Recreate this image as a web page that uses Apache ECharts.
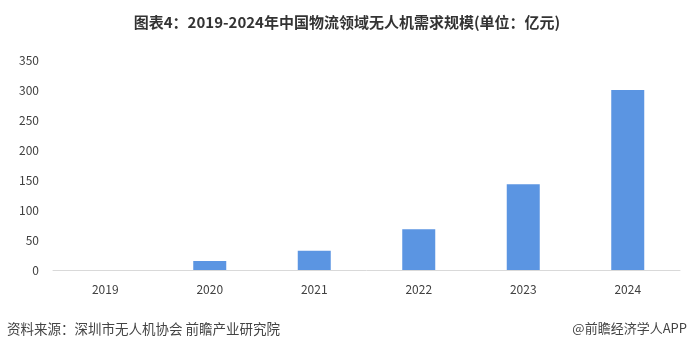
<!DOCTYPE html>
<html>
<head>
<meta charset="utf-8">
<script src="https://cdn.jsdelivr.net/npm/echarts@6/dist/echarts.min.js"></script>
<style>
    html, body { margin: 0; padding: 0; background: #fff; }
    #chart { width: 694px; height: 352px; }
</style>
</head>
<body>
<div id="chart"></div>
<script>
// 2019-2024 中国物流领域无人机需求规模(亿元)
const years = ['2019', '2020', '2021', '2022', '2023', '2024']
const demand = [0, 15, 32, 68, 143, 300]
const yTicks = { min: 0, max: 350, interval: 50 }

const titleText = '图表4：2019-2024年中国物流领域无人机需求规模(单位：亿元)'
const sourceText = '资料来源：深圳市无人机协会 前瞻产业研究院'
const brandText = '@前瞻经济学人APP'

const chart = echarts.init(document.getElementById('chart'))
chart.setOption({
    backgroundColor: '#fff',
    animation: false,
    textStyle: { fontFamily: '"Noto Sans CJK SC", "Noto Sans", sans-serif' },
    title: {
        text: titleText,
        left: 'center',
        top: 10,
        textStyle: { fontSize: 15, fontWeight: 'bold', color: '#333' },
    },
    grid: { left: 53, right: 14, top: 60, bottom: 82 },
    xAxis: {
        type: 'category',
        data: years,
        axisLine: { lineStyle: { color: '#d9d9d9' } },
        axisTick: { show: false },
        axisLabel: { color: '#404040', fontSize: 12, margin: 13 },
    },
    yAxis: {
        type: 'value',
        min: yTicks.min,
        max: yTicks.max,
        interval: yTicks.interval,
        splitLine: { show: false },
        axisLine: { show: false },
        axisTick: { show: false },
        axisLabel: { color: '#404040', fontSize: 12, margin: 14 },
    },
    series: [{
        type: 'bar',
        data: demand,
        barWidth: 33,
        itemStyle: { color: '#5b95e2' },
    }],
    graphic: [
        { type: 'text', left: 7, top: 322, style: { text: sourceText, fontSize: 13.5, fill: '#444', fontFamily: '"Noto Sans CJK SC", sans-serif' } },
        { type: 'text', right: 7, top: 322, style: { text: brandText, fontSize: 13, fill: '#444', fontFamily: '"Noto Sans CJK SC", sans-serif' } },
    ],
})
</script>
</body>
</html>
